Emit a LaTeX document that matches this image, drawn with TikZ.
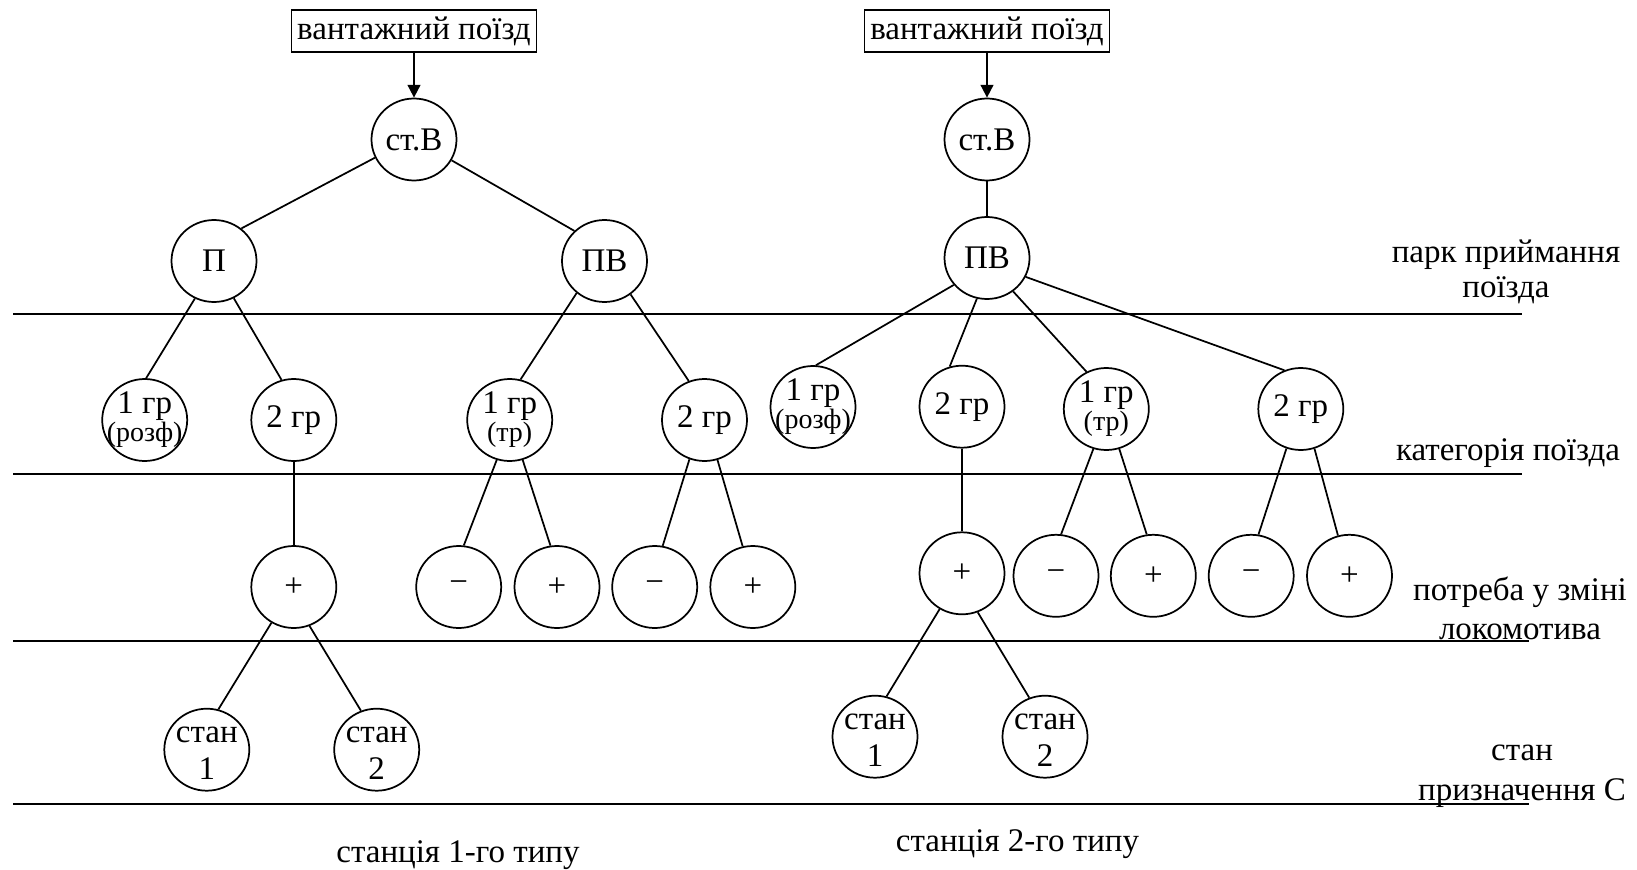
\documentclass[tikz,border=0pt]{standalone}
\usepackage{fontspec}
\setmainfont{Liberation Serif}
\usetikzlibrary{shapes.geometric,arrows.meta}
\newcommand{\subsize}{\fontsize{21}{21}\selectfont}
\newcommand{\stanline}{\rule{0pt}{17pt}}

\begin{document}
\begin{tikzpicture}[x=0.75pt,y=0.75pt,yscale=-1,line width=1.3pt,
    vertex/.style={draw,ellipse,minimum width=63.75pt,minimum height=61.5pt,inner sep=-10pt,align=center,font=\fontsize{24.75}{21}\selectfont},
    twoline/.style={font=\fontsize{24.75}{27.75}\selectfont},
    trainbox/.style={draw,minimum width=183.75pt,minimum height=31.5pt,inner sep=0pt,font=\fontsize{24.75}{29}\selectfont},
    levelname/.style={align=center,inner sep=0pt,font=\fontsize{24.75}{#1}\selectfont},
    levelname/.default=28.5]
        \useasboundingbox (0,0) rectangle (1637,870);

        \draw (13,314.3) -- (1522,314.3) ;
        \draw (13,474.3) -- (1522,474.3) ;
        \draw (13,641.3) -- (1529,641.3) ;
        \draw (13,804) -- (1529,804) ;

        % station of the first type
        \node [trainbox] (train1) at (414,31) {вантажний поїзд};
        \node [vertex] (stv1) at (414,139.5) {ст.В};
        \node [vertex] (p1) at (214,261) {П};
        \node [vertex] (pv1) at (604.5,261) {ПВ};
        \node [vertex] (gr1a) at (144.7,420) {1 гр\\\subsize(розф)};
        \node [vertex] (gr2a) at (293.8,420) {2 гр};
        \node [vertex] (gr1b) at (509.7,420) {1 гр\\\subsize(тр)};
        \node [vertex] (gr2b) at (704.5,420) {2 гр};
        \node [vertex] (ch1) at (293.8,587) {+};
        \node [vertex] (ch2) at (458.7,587) {−};
        \node [vertex] (ch3) at (557,587) {+};
        \node [vertex] (ch4) at (654.7,587) {−};
        \node [vertex] (ch5) at (752.8,587) {+};
        \node [vertex,twoline] (st1) at (206.8,749.7) {\stanline стан\\1};
        \node [vertex,twoline] (st2) at (376.7,749.7) {\stanline стан\\2};

        \draw [-{Triangle[length=9.5pt,width=9.5pt]}] (train1.south) -- (stv1.north) ;
        \draw (stv1.205) -- (p1.50) ;
        \draw (stv1.-29) -- (pv1.135) ;
        \draw (p1.243) -- (gr1a.88) ;
        \draw (p1.298) -- (gr2a.107) ;
        \draw (pv1.229) -- (gr1b.75) ;
        \draw (pv1.308) -- (gr2b.112) ;
        \draw (gr2a.south) -- (ch1.north) ;
        \draw (gr1b.252) -- (ch2.83) ;
        \draw (gr1b.288) -- (ch3.99) ;
        \draw (gr2b.249) -- (ch4.79) ;
        \draw (gr2b.288) -- (ch5.104) ;
        \draw (ch1.238) -- (st1.74) ;
        \draw (ch1.292) -- (st2.112) ;

        % station of the second type
        \node [trainbox] (train2) at (987,31) {вантажний поїзд};
        \node [vertex] (stv2) at (987,139.5) {ст.В};
        \node [vertex] (pv2) at (987,258) {ПВ};
        \node [vertex] (gr1c) at (813,407) {1 гр\\\subsize(розф)};
        \node [vertex] (gr2c) at (962,406.7) {2 гр};
        \node [vertex] (gr1d) at (1106.3,409) {1 гр\\\subsize(тр)};
        \node [vertex] (gr2d) at (1300.8,409) {2 гр};
        \node [vertex] (ch6) at (962,573.3) {+};
        \node [vertex] (ch7) at (1056,575.8) {−};
        \node [vertex] (ch8) at (1153.3,575.8) {+};
        \node [vertex] (ch9) at (1251.2,575.8) {−};
        \node [vertex] (ch10) at (1349.5,575.8) {+};
        \node [vertex,twoline] (st3) at (875,736.7) {\stanline стан\\1};
        \node [vertex,twoline] (st4) at (1045,736.7) {\stanline стан\\2};

        \draw [-{Triangle[length=9.5pt,width=9.5pt]}] (train2.south) -- (stv2.north) ;
        \draw (stv2.south) -- (pv2.north) ;
        \draw (pv2.219) -- (gr1c.86) ;
        \draw (pv2.256) -- (gr2c.107) ;
        \draw (pv2.308) -- (gr1d.118) ;
        \draw (pv2.334) -- (gr2d.113) ;
        \draw (gr2c.south) -- (ch6.north) ;
        \draw (gr1d.252) -- (ch7.83) ;
        \draw (gr1d.288) -- (ch8.99) ;
        \draw (gr2d.250) -- (ch9.80) ;
        \draw (gr2d.289) -- (ch10.106) ;
        \draw (ch6.238) -- (st3.74) ;
        \draw (ch6.292) -- (st4.112) ;

        % level names
        \node [levelname=26.25] (park) at (1506,271.5) {парк приймання\\поїзда};
        \node [levelname] (cat) at (1508,453.5) {категорія поїзда};
        \node [levelname=29.25] (need) at (1520,608) {потреба у зміні\\локомотива};
        \node [levelname=30] (dest) at (1522,776) {стан\\призначення С};
        \node [levelname] (type1) at (458,855) {станція 1-го типу};
        \node [levelname] (type2) at (1017.5,844.5) {станція 2-го типу};
\end{tikzpicture}
\end{document}
